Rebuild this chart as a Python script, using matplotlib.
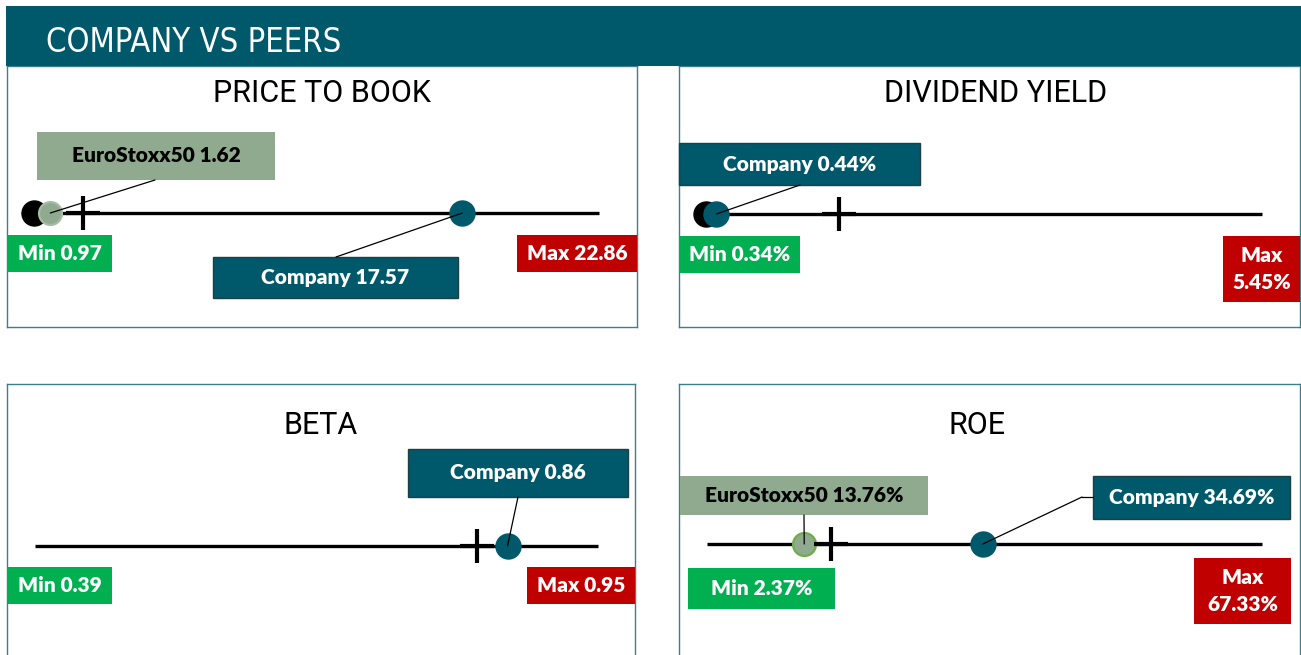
import matplotlib
matplotlib.use("Agg")
import matplotlib.pyplot as plt
from matplotlib.patches import Rectangle

# ---------------- data ----------------
metrics = ["PRICE TO BOOK", "DIVIDEND YIELD", "BETA", "ROE"]
units = ["", "%", "", "%"]
peer_min = [0.97, 0.34, 0.39, 2.37]
peer_max = [22.86, 5.45, 0.95, 67.33]
company = [17.57, 0.44, 0.86, 34.69]
eurostoxx = [1.62, None, None, 13.76]
peer_median = [2.89, 1.57, 0.83, 16.94]
min_marker = [0.97, 0.34, None, None]
max_two_lines = [False, True, False, True]

# ---------------- style ----------------
TEAL = "#00596a"
GREEN = "#00b050"
RED = "#c00000"
SAGE = "#8faa8f"
BORDER = "#3f7f8b"
W, H = 1301, 655

fig = plt.figure(figsize=(W / 100, H / 100), dpi=100)
fig.patch.set_facecolor("white")

LABEL_FONT = dict(family=["Lato", "DejaVu Sans"], weight="heavy", size=15)
PANEL_TITLE_FONT = dict(family=["Roboto", "DejaVu Sans"], size=22)

# ---------------- layout (pixels) ----------------
panel_rect = [(7, 66, 637, 327), (679, 66, 1300, 327),
              (7, 384, 635, 664), (679, 384, 1300, 664)]
line_px = [(33.5, 599, 213), (705.5, 1261.5, 214),
           (35, 598, 546), (707, 1261.5, 544)]
title_xy = [(322, 93), (996, 93), (321, 425), (977, 425)]
company_box = [(213, 257, 458, 298), (679, 143, 920, 185),
               (408, 449, 628, 497), (1093, 476, 1290, 519)]
company_anchor = [(336, 257), (800, 185), (518, 497), (1093, 497)]
euro_box = [(37, 132, 275, 180), None, None, (680, 476, 928, 515)]
euro_anchor = [(155, 180), None, None, (804, 515)]
min_box = [(7, 235, 112, 272), (679, 236, 800, 273),
           (7, 567, 112, 604), (688, 568, 835, 609)]
max_box = [(517, 235, 637, 272), (1223, 236, 1300, 302),
           (527, 567, 635, 604), (1194, 558, 1291, 624)]
euro_edge = ["#a7bba7", None, None, "#70ad47"]

# overlay axes in pixel coordinates for boxes / header
ov = fig.add_axes([0, 0, 1, 1])
ov.set_xlim(0, W)
ov.set_ylim(H, 0)
ov.axis("off")
ov.set_zorder(10)


def box(rect, fc, text, tc, ec=None):
    x0, y0, x1, y1 = rect
    ov.add_patch(Rectangle((x0, y0), x1 - x0, y1 - y0, facecolor=fc,
                           edgecolor=ec if ec else fc, lw=1.0 if ec else 0))
    ov.text((x0 + x1) / 2, (y0 + y1) / 2, text, color=tc, ha="center",
            va="center", linespacing=1.5, **LABEL_FONT)


def fmt(v, u):
    return f"{v:.2f}{u}"


# header
ov.add_patch(Rectangle((6, 6), W - 6, 60, facecolor=TEAL, edgecolor="none"))
ov.text(46, 42, "COMPANY VS PEERS", color="white", ha="left", va="center",
        family=["DejaVu Sans"], fontstretch="condensed", size=23.5)

for i in range(4):
    x0, y0, x1, y1 = panel_rect[i]
    p0, p1, ly = line_px[i]
    vmin, vmax = peer_min[i], peer_max[i]
    ax = fig.add_axes([x0 / W, 1 - y1 / H, (x1 - x0) / W, (y1 - y0) / H])
    s = (vmax - vmin) / (p1 - p0)
    ax.set_xlim(vmin - (p0 - x0) * s, vmax + (x1 - p1) * s)
    ax.set_ylim(y1, y0)
    ax.set_xticks([])
    ax.set_yticks([])
    for sp in ax.spines.values():
        sp.set_color(BORDER)
        sp.set_linewidth(1.0)

    # range line
    ax.plot([vmin, vmax], [ly, ly], color="black", lw=2.4,
            solid_capstyle="butt", zorder=1)
    if min_marker[i] is not None:
        ax.plot(min_marker[i], ly, "o", ms=18, color="black", zorder=2,
                clip_on=False)
    if eurostoxx[i] is not None:
        ax.plot(eurostoxx[i], ly, "o", ms=16.5, mfc=SAGE, mec=euro_edge[i],
                mew=1.6, zorder=3, clip_on=False)
    ax.plot(peer_median[i], ly, marker="+", ms=24, mew=3.0, color="black",
            zorder=4)
    ax.plot(company[i], ly, "o", ms=18, color=TEAL, zorder=5, clip_on=False)

    # panel title
    ov.text(title_xy[i][0], title_xy[i][1], metrics[i], ha="center",
            va="center", color="black", **PANEL_TITLE_FONT)

    u = units[i]
    # min / max boxes
    box(min_box[i], GREEN, f"Min {fmt(vmin, u)}", "white")
    sep = "\n" if max_two_lines[i] else " "
    box(max_box[i], RED, f"Max{sep}{fmt(vmax, u)}", "white")

    # company label + leader
    box(company_box[i], TEAL, f"Company {fmt(company[i], u)}", "white",
        ec="#1d3f46")
    ax_pt = company_anchor[i]
    if i == 3:
        ov.plot([ax_pt[0], ax_pt[0] - 11], [ax_pt[1], ax_pt[1]], color="black",
                lw=0.9)
        ax_pt = (ax_pt[0] - 11, ax_pt[1])
    ov.annotate("", xy=(company[i], ly), xycoords=ax.transData,
                xytext=ax_pt, textcoords="data",
                arrowprops=dict(arrowstyle="-", color="black", lw=0.9,
                                shrinkA=0, shrinkB=0))

    # eurostoxx label + leader
    if eurostoxx[i] is not None:
        box(euro_box[i], SAGE, f"EuroStoxx50 {fmt(eurostoxx[i], u)}", "black")
        ov.annotate("", xy=(eurostoxx[i], ly), xycoords=ax.transData,
                    xytext=euro_anchor[i], textcoords="data",
                    arrowprops=dict(arrowstyle="-", color="black", lw=0.9,
                                    shrinkA=0, shrinkB=0))

fig.savefig("out.png", dpi=100, facecolor="white")
